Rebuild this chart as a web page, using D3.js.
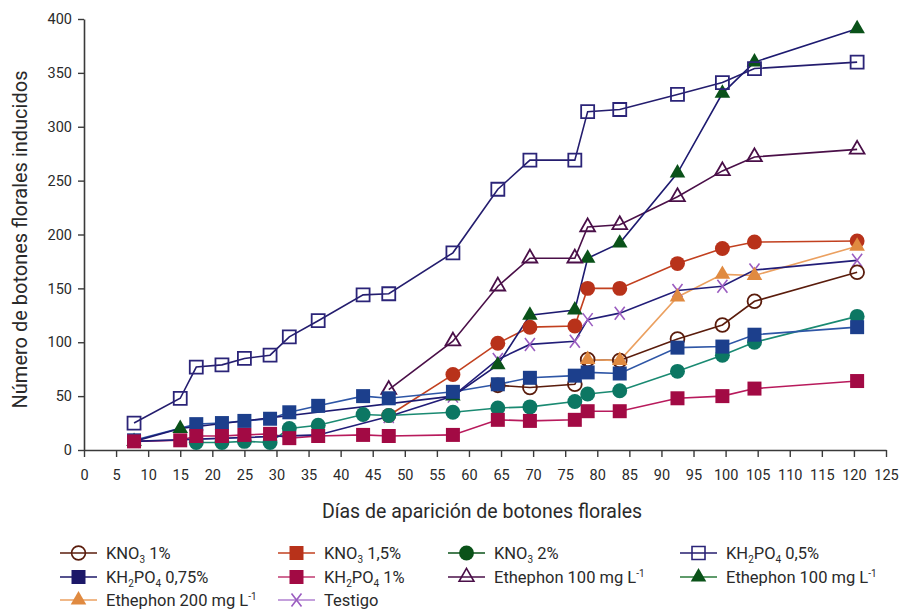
<!DOCTYPE html>
<html>
<head>
<meta charset="utf-8">
<title>Botones florales</title>
<script src="https://cdn.jsdelivr.net/npm/d3@7"></script>
<style>
  body { margin: 0; background: #fff; }
  text { font-family: Roboto, "Liberation Sans", sans-serif; fill: #2a2a2a; }
</style>
</head>
<body>
<div id="chart"></div>
<script>
// dias de muestreo (eje x)
var days = [7.8, 15, 17.5, 21.5, 25, 29, 32, 36.5, 43.5, 47.5, 57.5, 64.5, 69.5, 76.5, 78.5, 83.5, 92.5, 99.5, 104.5, 120.5];

// numero de botones por tratamiento (null = sin punto)
var kno3_1     = [null, null, null, null, null, null, null, null, null, null, null, 60, 58, 61, 84, 83, 103, 116, 138, 165];
var kno3_15    = [null, null, null, null, null, null, null, null, null, 32, 70, 99, 114, 115, 150, 150, 173, 187, 193, 194];
var kno3_2     = [null, null, 7, 7, 8, 7, 20, 23, 33, 32, 35, 39, 40, 45, 52, 55, 73, 88, 100, 124];
var kh2po4_05  = [25, 48, 77, 79, 85, 88, 105, 120, 144, 145, 183, 242, 269, 269, 314, 316, 330, 341, 354, 360];
var kh2po4_075 = [9, null, 24, 25, 27, 29, 35, 41, 50, 48, 54, 61, 67, 69, 72, 71, 95, 96, 107, 114];
var kh2po4_1   = [8, 9, 13, 13, 14, 15, 11, 13, 14, 13, 14, 28, 27, 28, 36, 36, 48, 50, 57, 64];
var eth100_a   = [null, null, null, null, null, null, null, null, null, 56, 101, 152, 178, 178, 207, 209, 235, 259, 272, 279];
var eth100_b   = [8, 20, null, null, null, null, null, null, null, null, 50, 79, 125, 130, 178, 192, 257, 331, 360, 391];
var eth200     = [null, null, null, null, null, null, null, null, null, null, null, null, null, null, 84, 83, 142, 163, 162, 189];
var testigo    = [8, null, null, null, null, null, null, 14, null, 31, 50, 84, 98, 101, 121, 127, 148, 152, 167, 176];

var xTicks = d3.range(0, 126, 5);
var yTicks = d3.range(0, 401, 50);

var labels = ["KNO_3 1%", "KNO_3 1,5%", "KNO_3 2%", "KH_2PO_4 0,5%", "KH_2PO_4 0,75%", "KH_2PO_4 1%",
              "Ethephon 100 mg L^-1", "Ethephon 100 mg L^-1", "Ethephon 200 mg L^-1", "Testigo"];
var values = [kno3_1, kno3_15, kno3_2, kh2po4_05, kh2po4_075, kh2po4_1, eth100_a, eth100_b, eth200, testigo];

// estilos: marcador en el grafico, color de linea, marcador de la leyenda
var styles = [
  { shape: "circle",   fill: "none",    stroke: "#5a1c0c", line: "#5a1c0c", lShape: "circle",   lFill: "none",    lStroke: "#5a1c0c", lLine: "#5a1c0c" },
  { shape: "circle",   fill: "#b8321a", stroke: "none",    line: "#c2401f", lShape: "square",   lFill: "#b8321a", lStroke: "none",    lLine: "#c2401f" },
  { shape: "circle",   fill: "#0c7763", stroke: "none",    line: "#1a8a72", lShape: "circle",   lFill: "#0a5219", lStroke: "none",    lLine: "#0a5219" },
  { shape: "square",   fill: "none",    stroke: "#2b2478", line: "#241d6e", lShape: "square",   lFill: "none",    lStroke: "#2b2478", lLine: "#241d6e" },
  { shape: "square",   fill: "#1c3f8c", stroke: "none",    line: "#2e56a6", lShape: "square",   lFill: "#1c1868", lStroke: "none",    lLine: "#1c1868" },
  { shape: "square",   fill: "#a20a44", stroke: "none",    line: "#b81a5c", lShape: "square",   lFill: "#a20a44", lStroke: "none",    lLine: "#c03a70" },
  { shape: "triangle", fill: "none",    stroke: "#4a0f48", line: "#4a0f48", lShape: "triangle", lFill: "none",    lStroke: "#4a0f48", lLine: "#4a0f48" },
  { shape: "triangle", fill: "#0a5219", stroke: "none",    line: "#1d1a70", lShape: "triangle", lFill: "#0a5219", lStroke: "none",    lLine: "#2a7a3a" },
  { shape: "triangle", fill: "#e08a40", stroke: "none",    line: "#eba060", lShape: "triangle", lFill: "#e08a40", lStroke: "none",    lLine: "#eba060" },
  { shape: "x",        fill: "none",    stroke: "#9a5cc0", line: "#221d78", lShape: "x",        lFill: "none",    lStroke: "#9a5cc0", lLine: "#b080d0" }
];
// orden de dibujo de los marcadores (los ocultos primero)
var drawOrder = [9, 7, 6, 1, 0, 2, 3, 4, 5, 8];

var width = 903, height = 612;
var margin = { top: 19, right: 17, bottom: 162, left: 84 };

var svg = d3.select("#chart").append("svg")
  .attr("width", width).attr("height", height)
  .style("background", "#fff");

var x = d3.scaleLinear().domain([0, 125]).range([margin.left, width - margin.right]);
var y = d3.scaleLinear().domain([0, 400]).range([height - margin.bottom, margin.top]);

function symbolPath(shape) {
  if (shape === "x") return "M-5,-6.5L5,6.5M-5,6.5L5,-6.5";
  var t = shape === "circle" ? d3.symbolCircle : shape === "square" ? d3.symbolSquare : d3.symbolTriangle;
  var s = shape === "circle" ? 175 : shape === "square" ? 196 : 105;
  return d3.symbol().type(t).size(s)();
}
function hollowSize(shape) {
  // marcadores huecos un poco mas chicos para que el borde quede en el mismo lugar
  if (shape === "circle") return d3.symbol().type(d3.symbolCircle).size(150)();
  if (shape === "square") return d3.symbol().type(d3.symbolSquare).size(169)();
  if (shape === "triangle") return d3.symbol().type(d3.symbolTriangle).size(95)();
  return symbolPath(shape);
}
function markerD(shape, fill) {
  return fill === "none" ? hollowSize(shape) : symbolPath(shape);
}

// ejes
var xAxis = svg.append("g")
  .attr("transform", "translate(0," + y(0) + ")")
  .call(d3.axisBottom(x).tickValues(xTicks).tickSize(7).tickSizeOuter(0).tickPadding(13));
var yAxis = svg.append("g")
  .attr("transform", "translate(" + x(0) + ",0)")
  .call(d3.axisLeft(y).tickValues(yTicks).tickSize(6).tickSizeOuter(0).tickPadding(6));

[xAxis, yAxis].forEach(function (a) {
  a.select(".domain").attr("stroke", "#3a3a3a").attr("stroke-width", 1.6);
  a.selectAll(".tick line").attr("stroke", "#3a3a3a").attr("stroke-width", 1.4);
  a.selectAll(".tick text").style("font-size", "14.5px").attr("fill", "#2a2a2a");
});

svg.append("text")
  .attr("x", (x(0) + x(125)) / 2 - 3).attr("y", 518)
  .attr("text-anchor", "middle").style("font-size", "19.5px")
  .text("Días de aparición de botones florales");
svg.append("text")
  .attr("transform", "translate(27," + (y(200) + 5) + ") rotate(-90)")
  .attr("text-anchor", "middle").style("font-size", "20px")
  .text("Número de botones florales inducidos");

// lineas
var line = d3.line()
  .x(function (d) { return x(d.day); })
  .y(function (d) { return y(d.v); });

var series = values.map(function (vals, i) {
  return {
    i: i,
    pts: days.map(function (d, j) { return { day: d, v: vals[j] }; }).filter(function (p) { return p.v !== null; })
  };
});

svg.append("g").selectAll("path")
  .data(series)
  .enter().append("path")
  .attr("fill", "none")
  .attr("stroke", function (s) { return styles[s.i].line; })
  .attr("stroke-width", 1.6)
  .attr("d", function (s) { return line(s.pts); });

// marcadores
var marks = svg.append("g");
drawOrder.forEach(function (k) {
  var st = styles[k];
  marks.append("g").selectAll("path")
    .data(series[k].pts)
    .enter().append("path")
    .attr("transform", function (p) { return "translate(" + x(p.day) + "," + y(p.v) + ")"; })
    .attr("d", markerD(st.shape, st.fill))
    .attr("fill", st.fill)
    .attr("stroke", st.shape === "x" || st.fill === "none" ? st.stroke : "none")
    .attr("stroke-width", st.shape === "x" ? 1.6 : 1.8);
});

// leyenda
var colX = [60, 278, 448, 680];
var rowY = [553, 577, 600];

function addLabel(sel, str) {
  // "_" subindice, "^" superindice
  var re = /([_^])(\S+?)(?=[A-Z ]|$)/g;
  var parts = [], last = 0, m;
  while ((m = re.exec(str)) !== null) {
    if (m.index > last) parts.push({ t: str.slice(last, m.index), k: "n" });
    parts.push({ t: m[2], k: m[1] === "_" ? "sub" : "sup" });
    last = m.index + m[0].length;
  }
  if (last < str.length) parts.push({ t: str.slice(last), k: "n" });
  var shift = 0;
  parts.forEach(function (p) {
    var target = p.k === "sub" ? 4 : p.k === "sup" ? -6 : 0;
    sel.append("tspan")
      .attr("dy", target - shift)
      .style("font-size", p.k === "n" ? "16.5px" : "10px")
      .text(p.t);
    shift = target;
  });
}

var leg = svg.append("g").selectAll("g")
  .data(labels)
  .enter().append("g")
  .attr("transform", function (d, i) { return "translate(" + colX[i % 4] + "," + rowY[Math.floor(i / 4)] + ")"; });

leg.append("line")
  .attr("x1", 0).attr("x2", 37).attr("y1", 0).attr("y2", 0)
  .attr("stroke", function (d, i) { return styles[i].lLine; })
  .attr("stroke-width", 1.6);
leg.append("path")
  .attr("transform", "translate(18.5,0)")
  .attr("d", function (d, i) { return markerD(styles[i].lShape, styles[i].lFill); })
  .attr("fill", function (d, i) { return styles[i].lFill; })
  .attr("stroke", function (d, i) { var s = styles[i]; return s.lShape === "x" || s.lFill === "none" ? s.lStroke : "none"; })
  .attr("stroke-width", 1.6);
leg.append("text")
  .attr("x", 46).attr("y", 6)
  .each(function (d) { addLabel(d3.select(this), d); });
</script>
</body>
</html>
